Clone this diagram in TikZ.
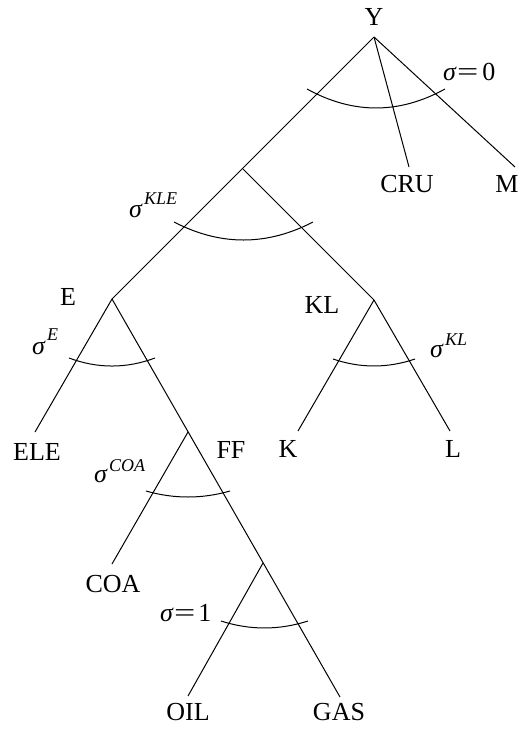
\documentclass[tikz,border=0pt]{standalone}
\usepackage{fontspec}
\setmainfont{Liberation Serif}
\newcommand{\sig}{{\itshape σ}}
\newcommand{\eqsign}{\hspace{1pt}\scalebox{1.45}[1]{=}}
\newcommand{\supr}[2]{\raisebox{#1pt}{\fontsize{18}{18}\selectfont\itshape\hspace{2pt}#2}}
\begin{document}
\begin{tikzpicture}[x=1pt,y=-1pt,
  branch/.style={line width=1pt},
  elast/.style={line width=1pt},
  lbl/.style={font=\fontsize{26}{26}\selectfont, inner sep=0pt, anchor=base},
  slbl/.style={font=\fontsize{26}{26}\selectfont, inner sep=0pt, anchor=base west},
]
\useasboundingbox (0,0) rectangle (523,729);

% branching points and leaf ends
\coordinate (Y) at (374,37);
\coordinate (KLE) at (243,169);
\coordinate (E) at (112,299);
\coordinate (KL) at (374,300);
\coordinate (CRUend) at (409,167);
\coordinate (Mend) at (515,167);
\coordinate (ELEend) at (35,432);
\coordinate (FF) at (188,432);
\coordinate (OG) at (263,563);
\coordinate (GASend) at (340,697);
\coordinate (COAend) at (112,564);
\coordinate (OILend) at (188,696);
\coordinate (Kend) at (298,431);
\coordinate (Lend) at (450,431);

% tree branches
\draw[branch] (Y) -- (E);
\draw[branch] (KLE) -- (KL);
\draw[branch] (Y) -- (CRUend);
\draw[branch] (Y) -- (Mend);
\draw[branch] (E) -- (ELEend);
\draw[branch] (E) -- (GASend);
\draw[branch] (FF) -- (COAend);
\draw[branch] (OG) -- (OILend);
\draw[branch] (KL) -- (Kend);
\draw[branch] (KL) -- (Lend);

% substitution arcs
\draw[elast] (307,89) .. controls (353,114.3) and (399,114.3) .. (445,89);
\draw[elast] (174,222) .. controls (220.3,246) and (266.7,246) .. (313,222);
\draw[elast] (69,358) .. controls (97.7,368.7) and (126.3,368.7) .. (155,358);
\draw[elast] (333,359) .. controls (360.3,368.3) and (387.7,368.3) .. (415,359);
\draw[elast] (146,491) .. controls (174,499) and (202,499) .. (230,491);
\draw[elast] (221,621) .. controls (250,630.3) and (279,630.3) .. (308,621);

% node labels
\node[lbl] (tY) at (374,25) {Y};
\node[lbl] (tCRU) at (407,192) {CRU};
\node[lbl] (tM) at (507,192) {M};
\node[lbl] (tE) at (68,305) {E};
\node[lbl] (tKL) at (322,313) {KL};
\node[lbl] (tELE) at (37,460) {ELE};
\node[lbl] (tFF) at (231,458) {FF};
\node[lbl] (tK) at (288,457) {K};
\node[lbl] (tL) at (453,457) {L};
\node[lbl] (tCOA) at (113,592) {COA};
\node[lbl] (tOIL) at (188,720) {OIL};
\node[lbl] (tGAS) at (339,720) {GAS};

% elasticity labels
\node[slbl] (s0) at (443,80) {\sig\eqsign\hspace{4pt}0};
\node[slbl] (sKLE) at (129,217) {\sig\supr{13}{KLE}};
\node[slbl] (sE) at (32,354) {\sig\supr{14}{E}};
\node[slbl] (sKL) at (430,357) {\sig\supr{12}{KL}};
\node[slbl] (sCOA) at (94,482) {\sig\supr{11}{COA}};
\node[slbl] (s1) at (160,621) {\sig\eqsign\hspace{3pt}1};
\end{tikzpicture}
\end{document}
